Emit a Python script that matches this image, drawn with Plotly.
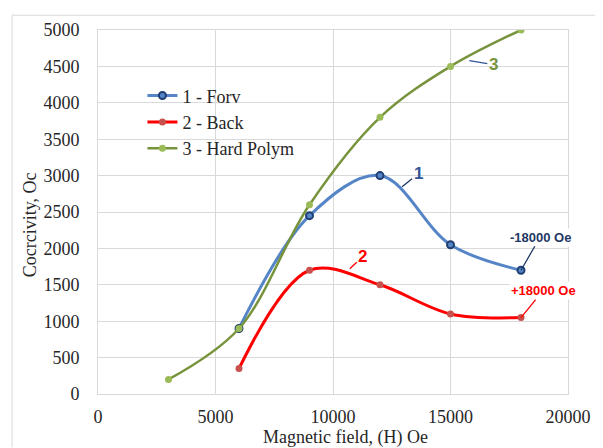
import plotly.graph_objects as go

# Data
field_forv = [6000, 9000, 12000, 15000, 18000]
coerc_forv = [900, 2450, 3000, 2050, 1700]
field_back = [6000, 9000, 12000, 15000, 18000]
coerc_back = [350, 1700, 1500, 1100, 1050]
field_hard = [3000, 6000, 9000, 12000, 15000, 18000]
coerc_hard = [200, 900, 2600, 3800, 4500, 5000]

x_ticks = [0, 5000, 10000, 15000, 20000]
y_ticks = [0, 500, 1000, 1500, 2000, 2500, 3000, 3500, 4000, 4500, 5000]

names = ["1 - Forv", "2 - Back", "3 - Hard Polym"]

BLUE = "#5585c6"
BLUE_DARK = "#1f3f73"
RED = "#ff0000"
RED_MK = "#c8504d"
GREEN = "#77933c"
GREEN_MK = "#9bbb59"
GRID = "#d9d9d9"
SERIF = "Liberation Serif"
SANS = "Liberation Sans"

# page offset (body margin of the html page)
OFF = 8
W, H = 603 - OFF, 448 - OFF
PL, PR, PT, PB = 98, 574, 25, 394  # plot area in page pixels
PW, PH = PR - PL, PB - PT


def px(xp):
    return (xp - PL) / PW


def py(yp):
    return (PB - yp) / PH


fig = go.Figure()
fig.add_trace(go.Scatter(
    x=field_forv, y=coerc_forv, name=names[0], mode="lines+markers",
    line=dict(color=BLUE, width=3, shape="spline", smoothing=1),
    marker=dict(size=7, color=BLUE, line=dict(color=BLUE_DARK, width=2)),
))
fig.add_trace(go.Scatter(
    x=field_back, y=coerc_back, name=names[1], mode="lines+markers",
    line=dict(color=RED, width=3, shape="spline", smoothing=1),
    marker=dict(size=7, color=RED_MK),
))
fig.add_trace(go.Scatter(
    x=field_hard, y=coerc_hard, name=names[2], mode="lines+markers",
    line=dict(color=GREEN, width=2.5, shape="spline", smoothing=1),
    marker=dict(size=7, color=GREEN_MK),
))

annotations = [
    dict(x=12940, y=2846, text="<b>1</b>", ax=16, ay=-13,
         font=dict(family=SANS, size=17, color="#2f5597"), arrowcolor="#1f3864"),
    dict(x=10714, y=1721, text="<b>2</b>", ax=13, ay=-12,
         font=dict(family=SANS, size=17, color=RED), arrowcolor=RED),
    dict(x=15800, y=4580, text="<b>3</b>", ax=24, ay=4,
         font=dict(family=SANS, size=17, color=GREEN), arrowcolor="#2f5597"),
    dict(x=18000, y=1700, text="<b>-18000 Oe</b>", ax=19, ay=-33, bgcolor="white",
         font=dict(family=SANS, size=13, color="#1f3864"), arrowcolor="#1f3864"),
    dict(x=18000, y=1050, text="<b>+18000 Oe</b>", ax=22, ay=-27, bgcolor="white",
         font=dict(family=SANS, size=13, color=RED), arrowcolor=RED),
]
for a in annotations:
    a.update(xref="x", yref="y", showarrow=True, arrowhead=0, arrowwidth=1.3)

# axis titles as annotations
annotations.append(dict(xref="paper", yref="paper", x=px(349), y=py(438),
                        xanchor="center", yanchor="middle",
                        text="Magnetic field, (H) Oe", showarrow=False,
                        font=dict(family=SERIF, size=18, color="#262626")))
annotations.append(dict(xref="paper", yref="paper", x=px(29), y=py(222),
                        xanchor="center", yanchor="middle",
                        text="Cocrcivity, Oc", showarrow=False, textangle=-90,
                        font=dict(family=SERIF, size=18, color="#262626")))

fig.update_layout(
    width=W, height=H,
    margin=dict(l=PL - OFF, r=W - (PR - OFF), t=PT - OFF, b=H - (PB - OFF)),
    paper_bgcolor="white", plot_bgcolor="white",
    showlegend=True,
    legend=dict(x=px(143), y=py(73), xanchor="left", yanchor="top",
                bgcolor="rgba(0,0,0,0)", font=dict(family=SERIF, size=18, color="#262626")),
    annotations=annotations,
    shapes=[
        dict(type="line", xref="paper", yref="paper", x0=px(11), x1=px(603),
             y0=py(10), y1=py(10), line=dict(color=GRID, width=1)),
        dict(type="line", xref="paper", yref="paper", x0=px(11), x1=px(11),
             y0=py(10), y1=py(448), line=dict(color=GRID, width=1)),
    ],
)
fig.update_xaxes(range=[0, 20000], tickvals=x_ticks, ticktext=[str(v) for v in x_ticks],
                 showgrid=True, gridcolor=GRID, zeroline=False,
                 showline=True, linecolor=GRID, mirror=True, ticks="",
                 ticklabelstandoff=6,
                 tickfont=dict(family=SERIF, size=18, color="#262626"))
fig.update_yaxes(range=[0, 5000], tickvals=y_ticks, ticktext=[str(v) for v in y_ticks],
                 showgrid=True, gridcolor=GRID, zeroline=False,
                 showline=True, linecolor=GRID, mirror=True, ticks="",
                 ticklabelstandoff=14,
                 tickfont=dict(family=SERIF, size=18, color="#262626"))

fig.write_html("out.html")
